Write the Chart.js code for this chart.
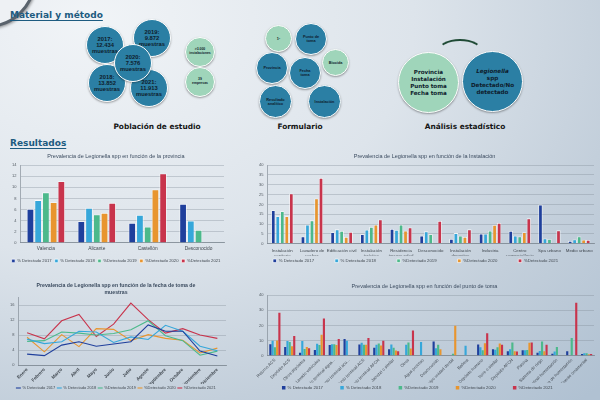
<!DOCTYPE html>
<html>
<head>
<meta charset="utf-8">
<script src="https://cdn.jsdelivr.net/npm/chart.js@4.4.1/dist/chart.umd.min.js"></script>
<style>
  html, body { margin: 0; padding: 0; }
  body {
    width: 600px; height: 400px; overflow: hidden; position: relative;
    font-family: "Liberation Sans", sans-serif;
    background: radial-gradient(ellipse 120% 130% at 15% 5%, #f1f4f7 0%, #dde4eb 45%, #c3cfdb 75%, #b0c1d2 100%);
  }
  .logo { position: absolute; left: -62px; top: -70px; width: 92px; height: 92px; border-radius: 50%;
    border: 3px solid #5a636c; background: #eef1f4; box-shadow: 1px 1px 3px rgba(0,0,0,0.4); }
  .head { position: absolute; left: 10px; font-family: "DejaVu Sans", sans-serif; font-weight: bold; font-size: 9px;
    color: #1d5b80; text-decoration: underline; text-underline-offset: 2px; }
  .lbl { position: absolute; font-family: "DejaVu Sans", sans-serif; font-weight: bold; font-size: 7.4px; color: #151515;
    transform: translateX(-50%); white-space: nowrap; }
  .b { position: absolute; border-radius: 50%; border: 1.5px solid #fff; box-sizing: border-box;
    box-shadow: 0 1px 2px rgba(0,0,0,0.35); display: flex; align-items: center; justify-content: center;
    text-align: center; font-weight: bold; color: #0e1c2c; line-height: 1.05; }
  .blue { background: #2b7fa4; }
  .green { background: #9fd5ba; }
  .big { font-family: "DejaVu Sans", sans-serif; font-size: 5.6px; line-height: 7px; }
  .arc { position: absolute; left: 437px; top: 39px; width: 46px; height: 26px; border-radius: 50%;
    border: 2.5px solid #1f4a35; border-bottom-color: transparent; border-left-color: transparent;
    border-right-color: transparent; box-sizing: border-box; }
  .box { position: absolute; }
</style>
</head>
<body>
<div class="logo"></div>
<div class="head" style="top:10px;">Material y método</div>

<!-- Población de estudio -->
<div class="b blue" style="left:86px;top:26px;width:38px;height:38px;font-size:5.8px;"><span>2017:<br>12.434<br>muestras</span></div>
<div class="b blue" style="left:133px;top:19px;width:38px;height:38px;font-size:5.8px;"><span>2019:<br>9.872<br>muestras</span></div>
<div class="b blue" style="left:88px;top:64px;width:38px;height:38px;font-size:5.8px;"><span>2018:<br>13.852<br>muestras</span></div>
<div class="b blue" style="left:130px;top:69px;width:38px;height:38px;font-size:5.8px;"><span>2021:<br>11.913<br>muestras</span></div>
<div class="b blue" style="left:114px;top:44px;width:38px;height:38px;font-size:5.8px;"><span>2020:<br>7.576<br>muestras</span></div>
<div class="b green" style="left:185px;top:37px;width:30px;height:30px;font-size:3.4px;"><span>&gt;3.000<br>instalaciones</span></div>
<div class="b green" style="left:185px;top:67px;width:30px;height:30px;font-size:3.4px;"><span>39<br>empresas</span></div>
<div class="lbl" style="left:157px;top:122px;">Población de estudio</div>

<!-- Formulario -->
<div class="b green" style="left:265px;top:25px;width:27px;height:27px;font-size:3.8px;"><span>1º</span></div>
<div class="b blue" style="left:295px;top:23px;width:32px;height:32px;font-size:3.8px;"><span>Punto de<br>toma</span></div>
<div class="b blue" style="left:256px;top:52px;width:32px;height:32px;font-size:3.8px;"><span>Provincia</span></div>
<div class="b blue" style="left:289px;top:57px;width:32px;height:32px;font-size:3.8px;"><span>Fecha<br>toma</span></div>
<div class="b green" style="left:322px;top:49px;width:27px;height:27px;font-size:3.8px;"><span>Biocida</span></div>
<div class="b blue" style="left:259px;top:85px;width:33px;height:33px;font-size:3.8px;"><span>Resultado<br>analítico</span></div>
<div class="b blue" style="left:308px;top:85px;width:33px;height:33px;font-size:3.8px;"><span>Instalación</span></div>
<div class="lbl" style="left:300px;top:122px;">Formulario</div>

<!-- Análisis estadístico -->
<div class="arc"></div>
<div class="b green big" style="left:398px;top:52px;width:61px;height:61px;"><span>Provincia<br>Instalación<br>Punto toma<br>Fecha toma</span></div>
<div class="b blue big" style="left:462px;top:51px;width:61px;height:61px;"><span><i>Legionella</i><br>spp<br>Detectado/No<br>detectado</span></div>
<div class="lbl" style="left:465px;top:122px;">Análisis estadístico</div>

<div class="head" style="top:138px;">Resultados</div>

<div class="box" style="left:8px;top:150px;width:222px;height:123px;"><canvas id="provChart"></canvas></div>
<div class="box" style="left:255px;top:150px;width:345px;height:123px;"><canvas id="instChart"></canvas></div>
<div class="box" style="left:6px;top:280px;width:226px;height:120px;"><canvas id="fechaChart"></canvas></div>
<div class="box" style="left:255px;top:280px;width:345px;height:120px;"><canvas id="puntoChart"></canvas></div>

<script>
// series labels + colours
const seriesNames = ['% Detectado 2017', '% Detectado 2018', '%Detectado 2019', '%Detectado 2020', '%Detectado 2021'];
const seriesColors = ['#1f3f9c', '#36a7da', '#4cb98b', '#e8952f', '#c8344c'];

// Prevalencia por provincia
const provincias = ['Valencia', 'Alicante', 'Castellón', 'Desconocido'];
const prov2017 = [6.1, 3.9, 3.6, 7.0];
const prov2018 = [7.7, 6.3, 5.0, 4.0];
const prov2019 = [9.1, 5.1, 2.9, 2.3];
const prov2020 = [7.3, 5.4, 9.6, null];
const prov2021 = [11.1, 7.2, 12.5, null];

// Prevalencia por instalación
const instalaciones = [['Instalación', 'sanitaria'], ['Lavadero de', 'coches'], 'Edificación civil', ['Instalación', 'turística'],
  ['Residencia', 'tercera edad'], 'Desconocido', ['Instalación', 'deportiva'], 'Industria', ['Centro', 'comercial/ocio'],
  'Spa urbano', 'Medio urbano'];
const inst2017 = [17.0, 3.7, 5.8, 4.8, 7.5, 4.1, 2.4, 5.1, 6.5, 19.9, 1.4];
const inst2018 = [14.0, 9.7, 7.3, 7.1, 7.0, 6.3, 5.4, 5.1, 4.1, 2.7, 2.2];
const inst2019 = [16.5, 11.9, 6.5, 8.5, 9.7, 4.8, 4.1, 6.6, 3.7, 2.4, 3.7];
const inst2020 = [14.0, 23.0, 3.4, 9.7, 6.6, null, 3.4, 9.5, 5.8, null, 2.0];
const inst2021 = [25.6, 33.5, 6.0, 12.3, 8.3, 11.6, 7.3, 10.6, 12.9, 6.8, 1.9];

// Prevalencia por fecha de toma
const meses = ['Enero', 'Febrero', 'Marzo', 'Abril', 'Mayo', 'Junio', 'Julio', 'Agosto', 'Septiembre', 'Octubre', 'Noviembre', 'Diciembre'];
const fecha2017 = [2.9, 2.5, 5.3, 6.2, 5.0, 5.6, 6.2, 10.7, 9.0, 9.0, 3.7, 2.4];
const fecha2018 = [6.9, 5.7, 6.2, 9.0, 8.8, 6.0, 7.5, 6.8, 10.6, 9.0, 5.0, 3.8];
const fecha2019 = [6.3, 6.5, 8.8, 8.5, 8.0, 8.4, 9.4, 11.8, 7.8, 6.5, 2.6, 3.7];
const fecha2020 = [7.4, 3.5, 8.1, 4.9, 9.7, 9.5, 6.5, 8.1, 7.1, 6.6, 3.2, 4.5];
const fecha2021 = [8.6, 7.0, 11.8, 13.5, 7.6, 10.9, 16.5, 12.1, 8.5, 9.7, 8.0, 7.1];

// Prevalencia por punto de toma
const puntos = ['Retorno ACS', 'Depósito ACS', 'Otros depósitos', 'Lavado vehículos', 'Punto terminal agua...',
  'Punto terminal acu...', 'Punto terminal ACS', 'Punto terminal AFCH', 'Jacuzzi o similar', 'Otros', 'Agua proceso',
  'Desconocido', 'Equipo unidad dental', 'Bañera', 'Depósito humano', 'Torre o similar', 'Depósito AFCH', 'Piscina',
  'Sistema de riego', 'Punto terminal humectación', 'Sistema de humectación', 'Fuente ornamental'];
const punto2017 = [7.6, 5.8, 2.0, 3.8, 7.0, 11.0, 7.4, 5.2, 4.3, null, null, 9.4, null, null, 7.4, 4.3, 2.9, 3.6, 2.0, 1.3, 2.9, 1.1];
const punto2018 = [9.9, 9.7, 9.7, 7.9, 7.6, 9.9, 8.5, 7.2, 7.4, 7.2, 9.0, 4.9, null, 6.5, 5.6, 4.0, 4.3, 3.6, 3.1, 2.7, null, 1.6];
const punto2019 = [5.6, 9.0, 4.5, 7.0, 7.6, null, 7.2, 8.1, 5.2, 8.8, null, 7.2, 1.3, null, 3.6, 5.6, 8.8, 3.8, 9.4, 5.8, 11.7, 1.6];
const punto2020 = [10.1, 6.3, 5.8, 13.9, 7.0, null, 7.2, 6.7, 3.4, 4.7, null, 4.3, 19.8, null, 8.3, 8.1, 2.9, 8.5, 2.9, null, null, 0.9];
const punto2021 = [28.3, 13.0, 4.9, 24.5, 11.0, null, 11.7, 9.9, 2.9, 16.6, null, null, null, null, 14.8, 7.2, 2.7, 8.8, 7.2, null, 35.0, 1.1];

const textColor = '#404850';
const titleColor = '#3a4a5e';
const gridColor = 'rgba(130,140,152,0.45)';

Chart.defaults.font.family = '"Liberation Sans", sans-serif';
Chart.defaults.color = textColor;
Chart.defaults.animation = false;

function barSets(arrs, border) {
  return arrs.map((d, i) => ({
    label: seriesNames[i],
    data: d,
    backgroundColor: seriesColors[i],
    borderColor: 'rgba(255,255,255,0.8)',
    borderWidth: border,
    categoryPercentage: 0.76,
    barPercentage: 0.95
  }));
}

// legend items padded with trailing spaces (labels.padding would also make the legend taller)
function spacedLabels(extraSpaces) {
  return chart => Chart.defaults.plugins.legend.labels.generateLabels(chart)
    .map(item => Object.assign(item, { text: item.text + ' '.repeat(extraSpaces) }));
}

// xHeight: fixed height of the x axis band, so long labels may spill like in the poster
function baseOptions(title, yMax, yStep, titleBold, xTicks, xHeight, legendSpaces, legendFont) {
  return {
    responsive: true,
    maintainAspectRatio: false,
    devicePixelRatio: 1,
    layout: { padding: { left: 0, right: 6, top: 0, bottom: 0 } },
    plugins: {
      title: {
        display: true, text: title, color: titleColor,
        font: { size: 5.5, weight: titleBold ? 'bold' : 'normal', lineHeight: 1.3 },
        padding: { top: 3, bottom: 5 }
      },
      legend: {
        position: 'bottom',
        labels: { boxWidth: 3.5, boxHeight: 3.5, font: { size: legendFont }, padding: 3, color: textColor,
          generateLabels: spacedLabels(legendSpaces) }
      },
      tooltip: { enabled: false }
    },
    scales: {
      y: {
        min: 0, max: yMax,
        ticks: { stepSize: yStep, font: { size: 4 }, padding: 4, color: '#505860' },
        grid: { color: gridColor, lineWidth: 0.8, drawTicks: false },
        border: { display: true, color: 'rgba(120,130,140,0.6)' }
      },
      x: {
        grid: { display: false, drawTicks: false },
        border: { color: 'rgba(120,130,140,0.7)' },
        ticks: xTicks,
        afterFit: scale => { scale.height = xHeight; }
      }
    }
  };
}

new Chart(document.getElementById('provChart'), {
  type: 'bar',
  data: { labels: provincias, datasets: barSets([prov2017, prov2018, prov2019, prov2020, prov2021], 0.8) },
  options: baseOptions('Prevalencia de Legionella spp en función de la provincia', 14, 2, false,
    { font: { size: 4.8 }, maxRotation: 0, padding: 3 }, 13, 0, 4.2)
});

new Chart(document.getElementById('instChart'), {
  type: 'bar',
  data: { labels: instalaciones, datasets: barSets([inst2017, inst2018, inst2019, inst2020, inst2021], 0.8) },
  options: baseOptions('Prevalencia de Legionella spp en función de la Instalación', 40, 5, false,
    { font: { size: 4.4 }, maxRotation: 0, autoSkip: false, padding: 4 }, 12, 15, 4.3)
});

new Chart(document.getElementById('fechaChart'), {
  type: 'line',
  data: {
    labels: meses,
    datasets: [fecha2017, fecha2018, fecha2019, fecha2020, fecha2021].map((d, i) => ({
      label: seriesNames[i], data: d, borderColor: seriesColors[i], backgroundColor: seriesColors[i],
      borderWidth: 1.1, pointRadius: 0, tension: 0
    }))
  },
  options: (() => {
    const o = baseOptions(['Prevalencia de Legionella spp en función de la fecha de toma de', 'muestras'], 18, 2, true,
      { font: { size: 4.6, weight: 'bold' }, minRotation: 45, maxRotation: 45, autoSkip: false, padding: 2 }, 19, 0, 4);
    o.plugins.title.font.size = 5.2;
    o.plugins.title.padding = { top: 2, bottom: 2 };
    o.plugins.legend.labels.usePointStyle = true;
    o.plugins.legend.labels.pointStyle = 'line';
    o.plugins.legend.labels.boxWidth = 7;
    o.plugins.legend.labels.padding = 2;
    o.scales.x.offset = true;
    return o;
  })()
});

new Chart(document.getElementById('puntoChart'), {
  type: 'bar',
  data: { labels: puntos, datasets: barSets([punto2017, punto2018, punto2019, punto2020, punto2021], 0) },
  options: baseOptions('Prevalencia de Legionella spp en función del punto de toma', 40, 5, false,
    { font: { size: 4.2 }, minRotation: 45, maxRotation: 45, autoSkip: false, padding: 2 }, 27, 12, 4.3)
});
</script>
</body>
</html>
